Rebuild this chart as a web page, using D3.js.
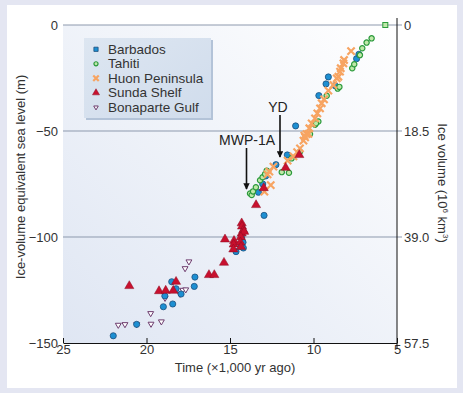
<!DOCTYPE html>
<html>
<head>
<meta charset="utf-8">
<script src="https://cdn.jsdelivr.net/npm/d3@7"></script>
<style>
  body { margin: 0; background: #e4e6f2; }
  svg { display: block; font-family: "Liberation Sans", Arial, sans-serif; }
</style>
</head>
<body>
<script>
// data: [time (kyr ago), sea level (m)]
var barbados = [[21.99,-146.6],[20.59,-141.2],[18.99,-132.9],[18.43,-131.6],[18.49,-121.1],[18.23,-124.4],
  [17.10,-118.9],[17.14,-123.3],[18.9,-127.8],[17.93,-126.9],[14.64,-106.9],[14.3,-100.5],[14.22,-102.5],
  [14.35,-104.5],[14.2,-105.2],[12.96,-89.8],[13.30,-78.9],[13.04,-75.0],[12.86,-71.2],[12.25,-65.9],
  [11.57,-61.3],[11.07,-47.6],[9.68,-33.3],[9.25,-27.8],[9.11,-24.5],[8.71,-28.6],[7.42,-15.9],[7.28,-13.8]];
var tahiti = [[13.80,-79.5],[13.70,-80.2],[13.62,-78.5],[13.45,-76.5],[13.20,-73.2],[13.05,-71.8],[12.9,-70.3],
  [12.8,-68.7],[11.9,-69.4],[11.47,-69.7],[11.31,-62.9],[10.81,-59.8],[10.21,-51.4],[9.91,-47.0],[9.71,-45.5],
  [9.85,-46.4],[9.21,-33.4],[8.55,-30.0],[8.45,-29.2],[7.68,-20.4],[7.56,-18.5],[7.22,-14.2],[7.08,-11.0],
  [6.82,-8.3],[6.52,-6.3]];
var huon = [[12.94,-78.6],[12.56,-75.5],[12.75,-70.5],[12.64,-69.2],[12.4,-66.8],[11.55,-64.0],[11.2,-62.0],
  [10.98,-60.0],[10.81,-58.2],[10.6,-54.5],[10.5,-53.0],[10.42,-51.5],[10.3,-51.4],[10.55,-52.2],[10.25,-48.7],
  [10.11,-46.4],[9.91,-44.0],[9.77,-41.7],[9.61,-39.3],[9.51,-36.9],[9.37,-35.1],[9.11,-31.0],[8.81,-28.3],
  [8.61,-25.2],[8.51,-24.4],[8.41,-22.0],[8.37,-20.4],[8.21,-18.1],[8.17,-16.5],[7.75,-12.3]];
var sunda = [[21.03,-123.1],[19.25,-125.5],[18.85,-125.3],[18.40,-125.3],[18.23,-121.1],[16.26,-117.9],
  [15.94,-117.9],[15.36,-112.1],[15.30,-101.1],[14.76,-101.8],[14.78,-103.5],[14.8,-105.8],[14.3,-93.5],
  [14.28,-95.0],[14.2,-96.7],[14.3,-98.3],[14.15,-97.5],[14.35,-100.0],[14.38,-102.5],[14.34,-104.6],
  [13.44,-84.9],[12.98,-76.9],[11.67,-67.3],[10.85,-61.3]];
var bonaparte = [[21.69,-141.5],[21.29,-141.2],[19.73,-141.0],[19.11,-139.9],[19.75,-136.0],[18.89,-128.8],
  [17.99,-126.9],[17.83,-125.0],[17.65,-124.8],[17.69,-114.8],[17.46,-111.6],[20.59,-141.2]];
var modern = [[5.7,0]];

var xTicks = [25,20,15,10,5];
var yTicks = [0,-50,-100,-150];
var iceLabels = ["0","18.5","39.0","57.5"];
var legendNames = ["Barbados","Tahiti","Huon Peninsula","Sunda Shelf","Bonaparte Gulf"];

var W = 463, H = 393;
var svg = d3.select("body").append("svg").attr("width", W).attr("height", H);

svg.append("rect").attr("x",7).attr("y",5).attr("width",450).attr("height",383).attr("fill","#fff");

var defs = svg.append("defs");
var g1 = defs.append("linearGradient").attr("id","bg").attr("x1",0).attr("y1",1).attr("x2",1).attr("y2",0);
g1.append("stop").attr("offset","0%").attr("stop-color","#dfe6f3");
g1.append("stop").attr("offset","100%").attr("stop-color","#ffffff");
var g2 = defs.append("linearGradient").attr("id","lg").attr("x1",0).attr("y1",0).attr("x2",1).attr("y2",1);
g2.append("stop").attr("offset","0%").attr("stop-color","#dde6f1");
g2.append("stop").attr("offset","100%").attr("stop-color","#d0dcec");

var x = d3.scaleLinear().domain([25,5]).range([63,397]);
var y = d3.scaleLinear().domain([0,-150]).range([25,343]);

svg.append("rect").attr("x",63).attr("y",25).attr("width",334).attr("height",318).attr("fill","url(#bg)");

// grid lines
svg.selectAll("line.grid").data(yTicks.slice(0,3)).enter().append("line")
  .attr("class","grid")
  .attr("x1",63).attr("x2",402)
  .attr("y1",function(d){return y(d);}).attr("y2",function(d){return y(d);})
  .attr("stroke","#8d99ad").attr("stroke-width",1);

// bottom axis
var xa = svg.append("g").attr("transform","translate(0,343)")
  .call(d3.axisBottom(x).tickValues(xTicks).tickSizeInner(-5).tickSizeOuter(0).tickPadding(2));
xa.select(".domain").attr("stroke","#111");
xa.selectAll("line").attr("stroke","#111");
xa.selectAll("text").attr("font-size",13).attr("fill","#333").attr("font-family","Liberation Sans, Arial");

// right axis line
svg.append("line").attr("x1",397).attr("x2",397).attr("y1",18).attr("y2",349).attr("stroke","#111");

// left labels
svg.selectAll("text.yl").data(yTicks).enter().append("text")
  .attr("class","yl").attr("x",58).attr("y",function(d){return y(d)+4.5;})
  .attr("text-anchor","end").attr("font-size",13).attr("fill","#333")
  .text(function(d){return d==0 ? "0" : "\u2212" + Math.abs(d);});
// right labels
svg.selectAll("text.yr").data(yTicks).enter().append("text")
  .attr("class","yr").attr("x",404).attr("y",function(d){return y(d)+4.5;})
  .attr("font-size",13).attr("fill","#333")
  .text(function(d,i){return iceLabels[i];});

// titles
svg.append("text").attr("transform","translate(25,177) rotate(-90)").attr("text-anchor","middle")
  .attr("font-size",13).attr("fill","#333").text("Ice-volume equivalent sea level (m)");
svg.append("text").attr("transform","translate(438,183) rotate(90)").attr("text-anchor","middle")
  .attr("font-size",13).attr("fill","#333")
  .html('Ice volume (10<tspan dy="-5" font-size="8">6</tspan><tspan dy="5"> km</tspan><tspan dy="-5" font-size="8">3</tspan><tspan dy="5">)</tspan>');
svg.append("text").attr("x",235).attr("y",372).attr("text-anchor","middle")
  .attr("font-size",13).attr("fill","#333").text("Time (\u00d71,000 yr ago)");

// annotations
defs.append("marker").attr("id","arr").attr("viewBox","0 0 10 10").attr("refX",9).attr("refY",5)
  .attr("markerWidth",4).attr("markerHeight",4).attr("orient","auto")
  .append("path").attr("d","M0,0L10,5L0,10z").attr("fill","#111");
svg.append("text").attr("x",278).attr("y",112).attr("text-anchor","middle").attr("font-size",14).attr("fill","#222").text("YD");
svg.append("line").attr("x1",280).attr("x2",280).attr("y1",115).attr("y2",157).attr("stroke","#111").attr("stroke-width",1.6).attr("marker-end","url(#arr)");
svg.append("text").attr("x",247).attr("y",145).attr("text-anchor","middle").attr("font-size",14).attr("fill","#222").text("MWP-1A");
svg.append("line").attr("x1",246.5).attr("x2",246.5).attr("y1",148).attr("y2",189).attr("stroke","#111").attr("stroke-width",1.6).attr("marker-end","url(#arr)");

// markers
var styles = [
  {data: barbados, sym: d3.symbolCircle, size: 30, fill: "#1d8fd2", stroke: "#1d4f7c", sw: 0.8, rot: 0},
  {data: tahiti, sym: d3.symbolCircle, size: 22, fill: "#bfe8a8", stroke: "#2b9a3c", sw: 1.2, rot: 0},
  {data: huon, sym: d3.symbolTimes, size: 36, fill: "none", stroke: "#f7a462", sw: 2.2, rot: 0},
  {data: sunda, sym: d3.symbolTriangle, size: 36, fill: "#c8102e", stroke: "#8e0c22", sw: 0.5, rot: 0},
  {data: bonaparte, sym: d3.symbolTriangle, size: 15, fill: "#fff", stroke: "#6e3d6e", sw: 1, rot: 180}
];

function drawSeries(s){
  svg.append("g").selectAll("path").data(s.data).enter().append("path")
    .attr("d", d3.symbol().type(s.sym).size(s.size))
    .attr("transform", function(d){return "translate(" + x(d[0]) + "," + y(d[1]) + ") rotate(" + s.rot + ")";})
    .attr("fill", s.fill).attr("stroke", s.stroke).attr("stroke-width", s.sw);
}
// draw order
[4,0,1,2,3].forEach(function(i){ drawSeries(styles[i]); });

svg.selectAll("rect.modern").data(modern).enter().append("rect")
  .attr("x",function(d){return x(d[0])-2.5;}).attr("y",function(d){return y(d[1])-2.5;})
  .attr("width",5).attr("height",5).attr("fill","#bfe8a8").attr("stroke","#2b9a3c").attr("stroke-width",1);

// legend
svg.append("rect").attr("x",86).attr("y",40).attr("width",127).attr("height",80).attr("fill","#b3c3d8");
svg.append("rect").attr("x",84).attr("y",38).attr("width",127).attr("height",80).attr("fill","url(#lg)");
var leg = svg.selectAll("g.leg").data(legendNames).enter().append("g")
  .attr("class","leg").attr("transform",function(d,i){return "translate(96," + (49.3 + i*14.5) + ")";});
leg.append("path")
  .attr("d",function(d,i){
    var s = styles[i];
    if (i == 0) return d3.symbol().type(d3.symbolSquare).size(18)();
    return d3.symbol().type(s.sym).size(s.size*0.6)();
  })
  .attr("transform",function(d,i){return "rotate(" + styles[i].rot + ")";})
  .attr("fill",function(d,i){return styles[i].fill;})
  .attr("stroke",function(d,i){return styles[i].stroke;})
  .attr("stroke-width",function(d,i){return styles[i].sw;});
leg.append("text").attr("x",12).attr("y",4.5).attr("font-size",13.5).attr("fill","#333").text(function(d){return d;});
</script>
</body>
</html>
